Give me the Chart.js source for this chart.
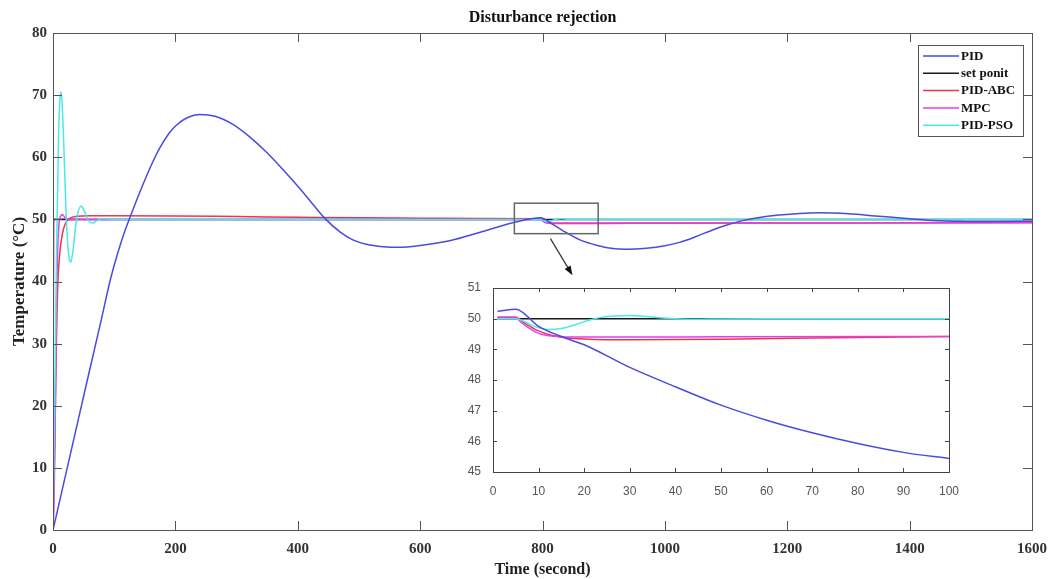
<!DOCTYPE html>
<html>
<head>
<meta charset="utf-8">
<script src="https://cdn.jsdelivr.net/npm/chart.js@4/dist/chart.umd.min.js"></script>
<style>
  body { margin: 0; background: #fff; }
  #wrap { position: relative; width: 1053px; height: 579px; }
  #main-chart { position: absolute; left: 0; top: 0; }
  #inset-chart { position: absolute; left: 463px; top: 275px; }
</style>
</head>
<body>
<div id="wrap">
  <canvas id="main-chart" width="1053" height="579"></canvas>
  <canvas id="inset-chart" width="500" height="222"></canvas>
</div>
<script>
// series labels and colours
const seriesNames = ["PID", "set ponit", "PID-ABC", "MPC", "PID-PSO"];
const seriesColors = ["#4a4ae0", "#1a1a1a", "#ee3350", "#e040e8", "#4ae8ea"];

// main plot: time (s) and temperature (°C)
const pidTime = [0, 30, 60, 80, 93, 105, 117, 130, 147, 160, 175, 190, 202, 220, 240, 265, 294, 320, 349, 375, 403, 425, 444, 470, 490, 512, 540, 565, 600, 650, 697, 753, 797, 815, 833, 861, 890, 915, 937, 970, 1000, 1024, 1050, 1078, 1100, 1127, 1160, 1187, 1220, 1252, 1300, 1350, 1400, 1430, 1480, 1540, 1600];
const pidTemp = [0, 12.9, 25.8, 34.3, 40, 44.3, 48.0, 51.4, 55.6, 58.6, 61.6, 63.9, 65.2, 66.4, 66.9, 66.6, 65.3, 63.4, 60.8, 58.1, 55.0, 52.4, 50.2, 47.9, 46.7, 46.0, 45.6, 45.5, 45.8, 46.6, 47.9, 49.5, 50.25, 49.3, 48.2, 46.7, 45.8, 45.3, 45.2, 45.35, 45.75, 46.3, 47.2, 48.3, 49.05, 49.8, 50.4, 50.7, 50.95, 51.05, 50.9, 50.5, 50.1, 49.85, 49.7, 49.65, 49.7];

const setTime = [0, 1, 1600];
const setTemp = [0, 50, 50];

const abcTime = [0, 3, 5, 6.5, 8, 11, 15, 20, 28, 39, 60, 100, 200, 300, 400, 500, 600, 700, 790, 797, 803, 808, 815, 830, 900, 1000, 1200, 1400, 1600];
const abcTemp = [0, 14, 27, 35, 40, 44.5, 47.5, 49.3, 50.2, 50.5, 50.6, 50.6, 50.55, 50.45, 50.35, 50.25, 50.2, 50.15, 50.1, 50.05, 49.7, 49.45, 49.35, 49.33, 49.35, 49.38, 49.42, 49.45, 49.5];

const mpcTime = [0, 2, 4, 6, 8, 10, 13, 15, 18, 22, 28, 40, 792, 797, 800, 804, 808, 815, 1600];
const mpcTemp = [0, 6, 22, 38, 46, 49.5, 50.6, 50.8, 50.5, 50.1, 49.95, 50, 50, 50, 49.75, 49.5, 49.42, 49.4, 49.45];

const psoTime = [0, 3, 6, 9, 11, 13, 15, 18, 21, 24, 27, 29, 32, 36, 40, 46, 52, 58, 64, 70, 80, 100, 792, 797, 800, 804, 808, 813, 818, 825, 832, 840, 850, 870, 1600];
const psoTemp = [0, 22, 46, 63, 69, 70.5, 68.5, 61, 52, 46, 43.5, 43.1, 44.5, 48, 50.8, 52.1, 51.2, 49.8, 49.4, 49.7, 50.1, 50, 50, 50, 49.85, 49.7, 49.65, 49.7, 49.9, 50.08, 50.1, 50.02, 49.98, 50, 50];

const mainXTicks = [0, 200, 400, 600, 800, 1000, 1200, 1400, 1600];
const mainYTicks = [0, 10, 20, 30, 40, 50, 60, 70, 80];

// inset: zoom on the disturbance
const inPidTime = [1, 5, 10, 16, 20, 30, 40, 50, 60, 70, 80, 90, 100];
const inPidTemp = [50.24, 50.31, 49.75, 49.36, 49.15, 48.41, 47.78, 47.18, 46.69, 46.28, 45.93, 45.64, 45.44];
const inSetTime = [1, 100];
const inSetTemp = [50, 50];
const inAbcTime = [1, 5, 7, 10, 13, 16, 20, 30, 50, 70, 100];
const inAbcTemp = [50.05, 50.05, 49.85, 49.6, 49.45, 49.38, 49.34, 49.31, 49.33, 49.37, 49.42];
const inMpcTime = [1, 5, 6, 8, 10, 12, 15, 20, 30, 50, 100];
const inMpcTemp = [50.05, 50.05, 49.9, 49.68, 49.52, 49.45, 49.41, 49.4, 49.4, 49.41, 49.42];
const inPsoTime = [1, 5, 7, 9, 12, 15, 18, 21, 24, 27, 30, 33, 36, 40, 45, 50, 60, 100];
const inPsoTemp = [50, 50, 49.9, 49.75, 49.65, 49.68, 49.8, 49.95, 50.05, 50.09, 50.1, 50.08, 50.04, 50, 49.98, 49.99, 50, 50];

const insetXTicks = [0, 10, 20, 30, 40, 50, 60, 70, 80, 90, 100];
const insetYTicks = [45, 46, 47, 48, 49, 50, 51];

// zoom box and arrow on the main plot (data coords)
const zoomBox = { x0: 754, x1: 891, y0: 47.7, y1: 52.6 };
const arrowFrom = { x: 813, y: 46.9 };
const arrowTo = { x: 849, y: 41.0 };

const serif = "'Liberation Serif', 'Times New Roman', serif";
const sans = "'Liberation Sans', Arial, sans-serif";

function pairs(xs, ys) {
  return xs.map((x, i) => ({ x: x, y: ys[i] }));
}

function makeDatasets(groups) {
  // draw order: PID on top, then PSO, MPC, ABC, set point
  const orders = [0, 4, 3, 2, 1];
  return groups.map((g, i) => ({
    label: seriesNames[i],
    data: pairs(g[0], g[1]),
    borderColor: seriesColors[i],
    backgroundColor: seriesColors[i],
    borderWidth: 1.5,
    pointRadius: 0,
    cubicInterpolationMode: "monotone",
    order: orders[i]
  }));
}

function drawFrame(chart, xTicks, yTicks, tickLen, color) {
  const ctx = chart.ctx;
  const a = chart.chartArea;
  const xs = chart.scales.x;
  const ys = chart.scales.y;
  ctx.save();
  ctx.strokeStyle = color;
  ctx.lineWidth = 1;
  ctx.beginPath();
  xTicks.forEach((v) => {
    const px = Math.round(xs.getPixelForValue(v)) + 0.5;
    ctx.moveTo(px, a.bottom); ctx.lineTo(px, a.bottom - tickLen);
    ctx.moveTo(px, a.top); ctx.lineTo(px, a.top + tickLen);
  });
  yTicks.forEach((v) => {
    const py = Math.round(ys.getPixelForValue(v)) + 0.5;
    ctx.moveTo(a.left, py); ctx.lineTo(a.left + tickLen, py);
    ctx.moveTo(a.right, py); ctx.lineTo(a.right - tickLen, py);
  });
  ctx.stroke();
  ctx.strokeRect(Math.round(a.left) + 0.5, Math.round(a.top) + 0.5, Math.round(a.right - a.left), Math.round(a.bottom - a.top));
  ctx.restore();
}

const mainDecor = {
  id: "mainDecor",
  afterDatasetsDraw(chart) {
    const ctx = chart.ctx;
    const a = chart.chartArea;
    const xs = chart.scales.x;
    const ys = chart.scales.y;
    drawFrame(chart, mainXTicks, mainYTicks, 9, "#555");

    ctx.save();
    // title, centred over the plot box
    ctx.fillStyle = "#111";
    ctx.font = "bold 16px " + serif;
    ctx.textAlign = "center";
    ctx.textBaseline = "middle";
    ctx.fillText("Disturbance rejection", (a.left + a.right) / 2, 18);
    ctx.textAlign = "left";

    // zoom rectangle
    ctx.strokeStyle = "#666";
    ctx.lineWidth = 1.5;
    const bx = xs.getPixelForValue(zoomBox.x0);
    const by = ys.getPixelForValue(zoomBox.y1);
    ctx.strokeRect(bx, by, xs.getPixelForValue(zoomBox.x1) - bx, ys.getPixelForValue(zoomBox.y0) - by);

    // arrow
    const x1 = xs.getPixelForValue(arrowFrom.x), y1 = ys.getPixelForValue(arrowFrom.y);
    const x2 = xs.getPixelForValue(arrowTo.x), y2 = ys.getPixelForValue(arrowTo.y);
    const ang = Math.atan2(y2 - y1, x2 - x1);
    ctx.strokeStyle = "#333";
    ctx.fillStyle = "#111";
    ctx.lineWidth = 1.2;
    ctx.beginPath();
    ctx.moveTo(x1, y1);
    ctx.lineTo(x2 - 6 * Math.cos(ang), y2 - 6 * Math.sin(ang));
    ctx.stroke();
    ctx.beginPath();
    ctx.moveTo(x2, y2);
    ctx.lineTo(x2 - 10 * Math.cos(ang - 0.35), y2 - 10 * Math.sin(ang - 0.35));
    ctx.lineTo(x2 - 10 * Math.cos(ang + 0.35), y2 - 10 * Math.sin(ang + 0.35));
    ctx.closePath();
    ctx.fill();

    // legend box
    const lx = 918, ly = 45, lw = 105, lh = 91;
    ctx.fillStyle = "#fff";
    ctx.fillRect(lx, ly, lw, lh);
    ctx.strokeStyle = "#555";
    ctx.lineWidth = 1;
    ctx.strokeRect(lx + 0.5, ly + 0.5, lw, lh);
    ctx.font = "bold 13px " + serif;
    ctx.textBaseline = "middle";
    seriesNames.forEach((name, i) => {
      const yy = 56 + i * 17.3;
      ctx.strokeStyle = seriesColors[i];
      ctx.lineWidth = 1.5;
      ctx.beginPath();
      ctx.moveTo(923, yy);
      ctx.lineTo(959, yy);
      ctx.stroke();
      ctx.fillStyle = "#111";
      ctx.fillText(name, 961, yy + 0.5);
    });
    ctx.restore();
  }
};

const insetDecor = {
  id: "insetDecor",
  beforeDraw(chart) {
    const ctx = chart.ctx;
    ctx.save();
    ctx.fillStyle = "#fff";
    ctx.fillRect(0, 0, chart.width, chart.height);
    ctx.restore();
  },
  afterDatasetsDraw(chart) {
    drawFrame(chart, insetXTicks, insetYTicks, 4, "#444");
  }
};

new Chart(document.getElementById("main-chart"), {
  type: "line",
  data: {
    datasets: makeDatasets([
      [pidTime, pidTemp],
      [setTime, setTemp],
      [abcTime, abcTemp],
      [mpcTime, mpcTemp],
      [psoTime, psoTemp]
    ])
  },
  options: {
    responsive: false,
    animation: false,
    layout: { padding: { left: 5, right: 21, top: 33, bottom: 0 } },
    plugins: {
      legend: { display: false },
      tooltip: { enabled: false },
      title: { display: false }
    },
    scales: {
      x: {
        type: "linear",
        min: 0,
        max: 1600,
        afterBuildTicks: (s) => { s.ticks = mainXTicks.map((v) => ({ value: v })); },
        afterFit: (s) => {
          s.height = 49;
          s.paddingLeft = 0;
          s.paddingRight = 0;
        },
        grid: { display: false, drawTicks: false },
        border: { display: false },
        ticks: {
          color: "#333",
          padding: 10,
          maxRotation: 0,
          font: { family: serif, size: 15, weight: "bold" },
          callback: (v) => String(v)
        },
        title: {
          display: true,
          text: "Time (second)",
          color: "#222",
          padding: { top: 0, bottom: 0 },
          font: { family: serif, size: 16, weight: "bold" }
        }
      },
      y: {
        min: 0,
        max: 80,
        afterBuildTicks: (s) => { s.ticks = mainYTicks.map((v) => ({ value: v })); },
        afterFit: (s) => {
          s.width = 48;
          s.paddingTop = 0;
          s.paddingBottom = 0;
        },
        grid: { display: false, drawTicks: false },
        border: { display: false },
        ticks: {
          color: "#333",
          padding: 6,
          font: { family: serif, size: 15, weight: "bold" },
          callback: (v) => String(v)
        },
        title: {
          display: true,
          text: "Temperature (°C)",
          color: "#222",
          padding: { top: 4, bottom: 0 },
          font: { family: serif, size: 17, weight: "bold" }
        }
      }
    }
  },
  plugins: [mainDecor]
});

new Chart(document.getElementById("inset-chart"), {
  type: "line",
  data: {
    datasets: makeDatasets([
      [inPidTime, inPidTemp],
      [inSetTime, inSetTemp],
      [inAbcTime, inAbcTemp],
      [inMpcTime, inMpcTemp],
      [inPsoTime, inPsoTemp]
    ])
  },
  options: {
    responsive: false,
    animation: false,
    layout: { padding: { left: 0, right: 11, top: 13, bottom: 0 } },
    plugins: {
      legend: { display: false },
      tooltip: { enabled: false },
      title: { display: false }
    },
    scales: {
      x: {
        type: "linear",
        min: 0,
        max: 100,
        afterBuildTicks: (s) => { s.ticks = insetXTicks.map((v) => ({ value: v })); },
        afterFit: (s) => { s.height = 25; },
        grid: { display: false },
        border: { display: false },
        ticks: { color: "#555", padding: 4, maxRotation: 0, font: { family: sans, size: 12 } }
      },
      y: {
        min: 45,
        max: 51,
        afterBuildTicks: (s) => { s.ticks = insetYTicks.map((v) => ({ value: v })); },
        afterFit: (s) => { s.width = 30; },
        grid: { display: false },
        border: { display: false },
        ticks: { color: "#555", padding: 4, font: { family: sans, size: 12 } }
      }
    }
  },
  plugins: [insetDecor]
});
</script>
</body>
</html>
